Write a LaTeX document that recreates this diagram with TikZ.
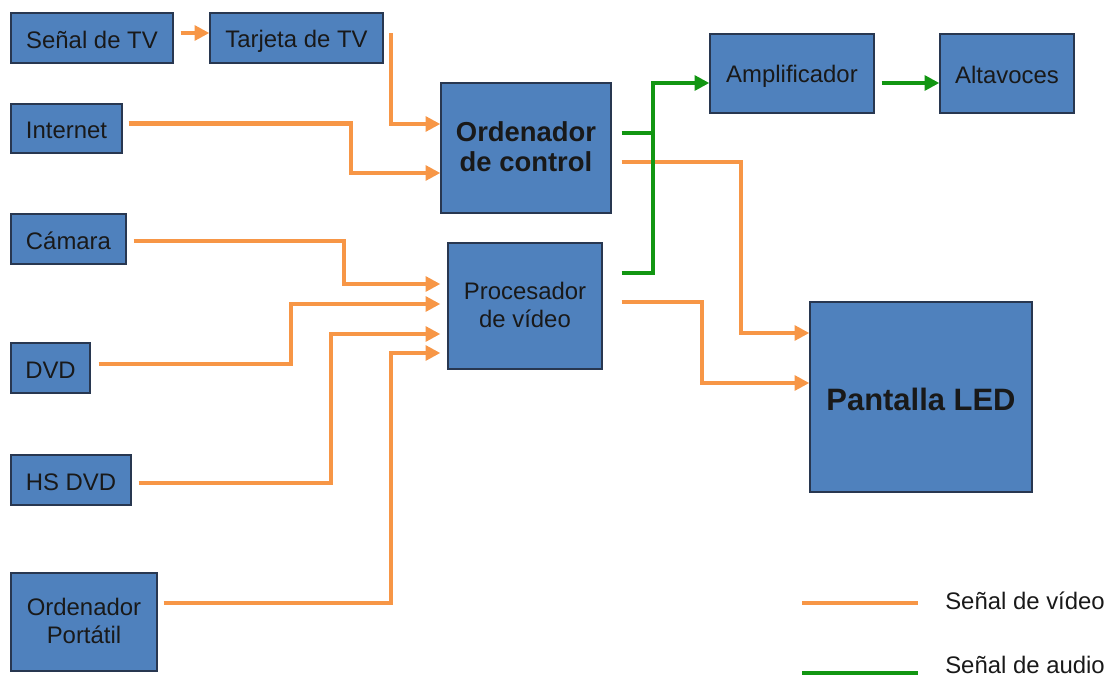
\documentclass[tikz,border=0pt]{standalone}
\usepackage{fontspec}
\setmainfont{Liberation Sans}
\usetikzlibrary{arrows.meta,calc}

\definecolor{boxblue}{RGB}{79,129,189}
\definecolor{boxedge}{RGB}{40,55,80}
\definecolor{videoorange}{RGB}{247,150,70}
\definecolor{audiogreen}{RGB}{18,150,18}

\newcommand{\linestrut}{\rule[-0.12em]{0pt}{1.1em}}

\tikzset{
	block/.style={draw=boxedge, line width=0.9pt, fill=boxblue, text=black!90,
		align=center, inner sep=0pt, font=\fontsize{17}{20}\selectfont,
		execute at begin node=\linestrut},
	video/.style={draw=videoorange, line width=3pt},
	audio/.style={draw=audiogreen, line width=3pt},
	tip/.style={-{Triangle[length=10.5pt,width=10.5pt]}}
}

\begin{document}
\begin{tikzpicture}[x=0.025cm, y=-0.025cm]

		\useasboundingbox (0,0) rectangle (1113,677);

		% entradas
		\node[block, minimum width=4.05cm, minimum height=1.25cm] (senal) at (92,38) {Señal de TV};
		\node[block, minimum width=4.325cm, minimum height=1.25cm] (tarjeta) at (296.5,38) {Tarjeta de TV};
		\node[block, minimum width=2.775cm, minimum height=1.225cm] (internet) at (66.5,128.5) {Internet};
		\node[block, minimum width=2.875cm, minimum height=1.25cm] (camara) at (68.5,239) {Cámara};
		\node[block, minimum width=1.975cm, minimum height=1.25cm] (dvd) at (50.5,368) {DVD};
		\node[block, minimum width=3cm, minimum height=1.25cm] (hsdvd) at (71,480) {HS DVD};
		\node[block, minimum width=3.65cm, minimum height=2.45cm] (portatil) at (84,622) {Ordenador\\Portátil};

		% proceso
		\node[block, minimum width=4.25cm, minimum height=3.25cm, font=\fontsize{19.5}{21.5}\selectfont\bfseries] (ctrl) at (526,148) {Ordenador\\de control};
		\node[block, minimum width=3.85cm, minimum height=3.15cm] (proc) at (525,306) {Procesador\\de vídeo};

		% salidas
		\node[block, minimum width=4.1cm, minimum height=1.975cm] (amp) at (792,73.5) {Amplificador};
		\node[block, minimum width=3.35cm, minimum height=1.975cm] (altavoces) at (1007,73.5) {Altavoces};
		\node[block, minimum width=5.55cm, minimum height=4.75cm, font=\fontsize{22}{26}\selectfont\bfseries] (pantalla) at (921,397) {Pantalla LED};

		% señal de vídeo
		\draw[video, tip] ($(senal.east)+(7,-5)$) -- ($(tarjeta.west)+(0,-5)$);
		\draw[video, tip] ($(tarjeta.east)+(7,-5)$) |- ($(ctrl.west)+(0,-24)$);
		\draw[video, tip] ($(internet.east)+(6,-5)$) -- ++(222,0) |- ($(ctrl.west)+(0,25)$);
		\draw[video, tip] ($(camara.east)+(7,2)$) -- ++(210,0) |- ($(proc.west)+(-7,-22)$);
		\draw[video, tip] ($(dvd.east)+(8,-4)$) -- ++(192,0) |- ($(proc.west)+(-7,-2)$);
		\draw[video, tip] ($(hsdvd.east)+(7,3)$) -- ++(192,0) |- ($(proc.west)+(-7,28)$);
		\draw[video, tip] ($(portatil.east)+(6,-19)$) -- ++(227,0) |- ($(proc.west)+(-7,47)$);
		\draw[video, tip] ($(ctrl.east)+(10,14)$) -- ++(119,0) |- ($(pantalla.west)+(0,-64)$);
		\draw[video, tip] ($(proc.east)+(19,-4)$) -- ++(80,0) |- ($(pantalla.west)+(0,-14)$);

		% señal de audio
		\draw[audio] ($(ctrl.east)+(10,-15)$) -- ++(32,0);
		\draw[audio, tip] ($(proc.east)+(19,-33)$) -- ++(31,0) |- ($(amp.west)+(0,9.5)$);
		\draw[audio, tip] ($(amp.east)+(7,9.5)$) -- ($(altavoces.west)+(0,9.5)$);

		% leyenda
		\coordinate (v1) at (802,603);
		\coordinate (v2) at (918,603);
		\coordinate (a1) at (802,673);
		\coordinate (a2) at (918,673);
		\draw[video] (v1) -- (v2);
		\draw[audio] (a1) -- (a2);
		\node[anchor=west, inner sep=0pt, text=black!90, font=\fontsize{17}{20}\selectfont] (lvideo) at (945,601) {Señal de vídeo};
		\node[anchor=west, inner sep=0pt, text=black!90, font=\fontsize{17}{20}\selectfont] (laudio) at (945,665) {Señal de audio};

	\end{tikzpicture}
\end{document}
